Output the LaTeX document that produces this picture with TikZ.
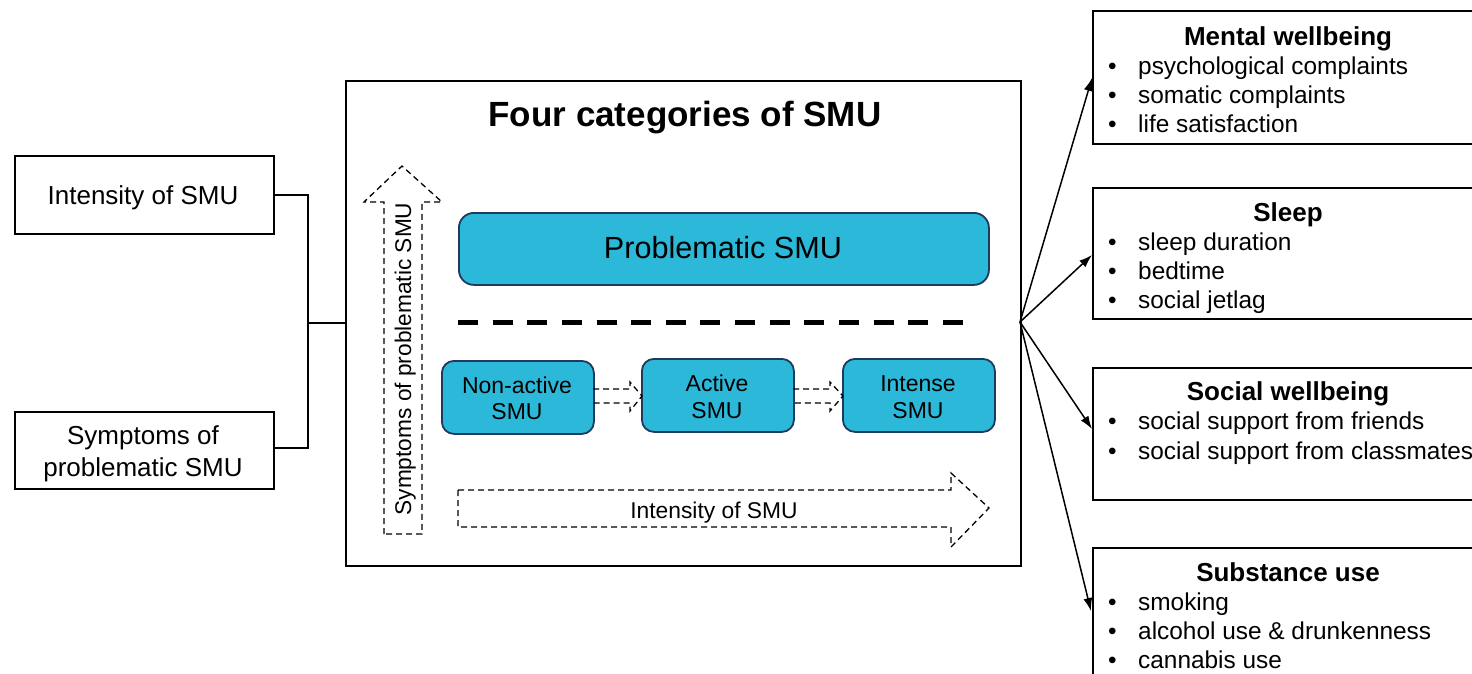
\documentclass[tikz,border=0pt]{standalone}
\usepackage{fontspec}
\setmainfont{Liberation Sans}
\usetikzlibrary{arrows.meta}
\definecolor{cyanfill}{HTML}{2CB8D8}
\definecolor{navyedge}{HTML}{1F3A5F}
\tikzset{
  plainbox/.style={draw=black, line width=1.8pt, fill=white, inner sep=0pt, anchor=north west},
  catbox/.style={draw=navyedge, line width=1.8pt, fill=cyanfill, rounded corners=12pt, inner sep=0pt, anchor=north west},
  link/.style={draw=black, line width=1.5pt},
  effect/.style={draw=black, line width=1.5pt, -{Latex[length=13pt,width=9pt]}},
  hollow/.style={draw=black, line width=1.3pt, dash pattern=on 6pt off 4pt, fill=none},
  capc/.style={inner sep=0pt, text height=#1, text depth=0pt},
  txt/.style={capc=16.5pt, font=\fontsize{23}{25}\selectfont},
  lefttxt/.style={capc=18.6pt, align=center, font=\fontsize{26}{32}\selectfont},
  headtxt/.style={capc=18.6pt, font=\bfseries\fontsize{26}{30}\selectfont},
  itemtxt/.style={capc=17.5pt, anchor=west, font=\fontsize{24.4}{29}\selectfont},
}
\begin{document}
\begin{tikzpicture}[x=1pt,y=-1pt]
\useasboundingbox (0,0) rectangle (1472,673);
\clip (0,0) rectangle (1472,673);
\fill[white] (0,0) rectangle (1472,673);

% left boxes
\node[plainbox, minimum width=259pt, minimum height=78pt] (int) at (14,155) {};
\node[lefttxt] (intT) at (143,195) {Intensity of SMU};
\node[plainbox, minimum width=259pt, minimum height=77pt] (sym) at (14,411) {};
\node[lefttxt] (symT1) at (143,435) {Symptoms of};
\node[lefttxt] (symT2) at (143,467) {problematic SMU};

% main box
\node[plainbox, minimum width=675pt, minimum height=485pt] (main) at (345,80) {};
\node[capc=25pt, font=\bfseries\fontsize{35}{40}\selectfont] (title) at (685,114) {Four categories of SMU};

% connectors from left boxes
\coordinate (jn) at (308,323);
\draw[link] (int.east |- 0,195) -| (jn);
\draw[link] (sym.east |- 0,448) -| (jn);
\draw[link] (jn) -- (main.west |- jn);

% problematic box
\node[catbox, rounded corners=15pt, minimum width=530pt, minimum height=72pt] (prob) at (458,212) {};
\node[capc=21.9pt, font=\fontsize{30.6}{36}\selectfont] (probT) at (723,248) {Problematic SMU};

% thick dashed divider
\coordinate (dvA) at (458,322);
\coordinate (dvB) at (963,322);
\draw[line width=5pt, dash pattern=on 20pt off 14.64pt] (dvA) -- (dvB);

% three category boxes
\node[catbox, minimum width=152pt, minimum height=73pt] (nona) at (441,360) {};
\node[txt] (nonaT1) at (517,385) {Non-active};
\node[txt] (nonaT2) at (517,411) {SMU};
\node[catbox, minimum width=152pt, minimum height=73pt] (act) at (641,358) {};
\node[txt] (actT1) at (717,383) {Active};
\node[txt] (actT2) at (717,410) {SMU};
\node[catbox, minimum width=152pt, minimum height=73pt] (ints) at (842,358) {};
\node[txt] (intsT1) at (918,383) {Intense};
\node[txt] (intsT2) at (918,410) {SMU};

% small hollow dashed arrows
\draw[hollow] (593,389) -- (630,389) -- (630,382) -- (642,396) -- (630,411) -- (630,403) -- (593,403);
\draw[hollow] (793,389) -- (830,389) -- (830,382) -- (843,396) -- (830,411) -- (830,403) -- (793,403);

% vertical hollow arrow
\draw[hollow] (384,534) -- (384,202) -- (364,202) -- (402,166) -- (442,202) -- (422,202) -- (422,534) -- cycle;
\node[capc=16.3pt, rotate=90, font=\fontsize{22.7}{27}\selectfont] (vT) at (403,359) {Symptoms of problematic SMU};

% horizontal hollow arrow
\draw[hollow] (458,490) -- (951,490) -- (951,473) -- (989,508) -- (951,547) -- (951,527) -- (458,527) -- cycle;
\node[capc=16.3pt, font=\fontsize{22.8}{27}\selectfont] (hT) at (714,510) {Intensity of SMU};

% outcome boxes
\node[plainbox, minimum width=400pt, minimum height=133pt] (mw) at (1092,10) {};
\node[plainbox, minimum width=400pt, minimum height=131pt] (sl) at (1092,187) {};
\node[plainbox, minimum width=400pt, minimum height=132pt] (sw) at (1092,367) {};
\node[plainbox, minimum width=400pt, minimum height=160pt] (su) at (1092,547) {};

% headings
\node[headtxt] (mwH) at (1288,36) {Mental wellbeing};
\node[headtxt] (slH) at (1288,212) {Sleep};
\node[headtxt] (swH) at (1288,391) {Social wellbeing};
\node[headtxt] (suH) at (1288,572) {Substance use};

% items
\foreach \y/\t [count=\i] in {66/psychological complaints,95/somatic complaints,124/life satisfaction,
  242/sleep duration,271/bedtime,300/social jetlag,
  421/social support from friends,451/social support from classmates,
  602/smoking,631/alcohol use \& drunkenness,660/cannabis use}{
  \node[itemtxt] (it\i) at (1108,\y) {\makebox[30pt][l]{\textbullet}\t};
}

% effect arrows
\coordinate (src) at (1020,322);
\draw[effect] (src) -- (mw.west |- 0,78);
\draw[effect] (src) -- (sl.west |- 0,255);
\draw[effect] (src) -- (sw.west |- 0,429);
\draw[effect] (src) -- ([xshift=-1pt]su.west |- 0,611);
\end{tikzpicture}
\end{document}
